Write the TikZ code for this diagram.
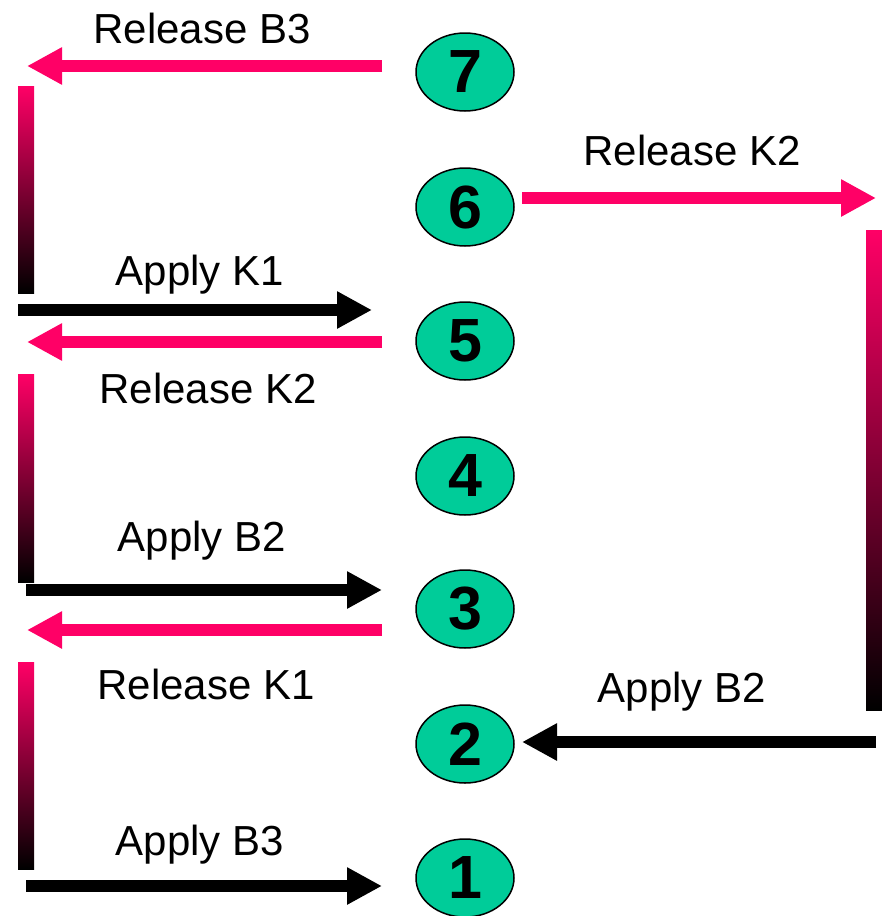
\documentclass[tikz,border=0pt]{standalone}
\usepackage{fontspec}
\setmainfont{Liberation Sans}
\usetikzlibrary{shapes.geometric,arrows.meta}
\definecolor{pinkred}{RGB}{255,0,102}
\definecolor{stepgreen}{RGB}{0,204,153}
\begin{document}
\begin{tikzpicture}[x=1pt,y=-1pt,
  stepnode/.style={ellipse,draw=black,line width=1.5pt,fill=stepgreen,minimum width=98pt,minimum height=78pt,inner sep=0pt,font=\fontsize{61}{61}\selectfont\bfseries},
  lbl/.style={font=\fontsize{42}{42}\selectfont,inner sep=0pt,anchor=center},
  redarrow/.style={draw=pinkred,line width=12pt,-{Triangle[length=35pt,width=35pt]}},
  blackarrow/.style={draw=black,line width=12pt,-{Triangle[length=35pt,width=35pt]}},
  gradbar/.style={top color=pinkred,bottom color=black,draw=none}
]
\useasboundingbox (0,0) rectangle (882,916);
% step ellipses
\node[stepnode] (n7) at (465,72) {7};
\node[stepnode] (n6) at (465,207) {6};
\node[stepnode] (n5) at (465,341) {5};
\node[stepnode] (n4) at (465,476) {4};
\node[stepnode] (n3) at (465,609) {3};
\node[stepnode] (n2) at (465,744) {2};
\node[stepnode] (n1) at (465,878) {1};
% arrow end coordinates
\coordinate (a7s) at (382,66);  \coordinate (a7e) at (27,66);
\coordinate (k1s) at (18,310);  \coordinate (k1e) at (372,310);
\coordinate (r5s) at (382,342); \coordinate (r5e) at (27,342);
\coordinate (b2s) at (26,590);  \coordinate (b2e) at (382,590);
\coordinate (r3s) at (382,630); \coordinate (r3e) at (27,630);
\coordinate (b3s) at (26,886);  \coordinate (b3e) at (382,886);
\coordinate (r6s) at (522,198); \coordinate (r6e) at (876,198);
\coordinate (a2s) at (876,742); \coordinate (a2e) at (522,742);
% gradient bars
\shade[gradbar] (18,86) rectangle (34,293);
\shade[gradbar] (18,374) rectangle (34,582);
\shade[gradbar] (18,662) rectangle (34,869);
\shade[gradbar] (866,230) rectangle (882,710);
% arrows
\draw[redarrow] (a7s) -- (a7e);
\draw[blackarrow] (k1s) -- (k1e);
\draw[redarrow] (r5s) -- (r5e);
\draw[blackarrow] (b2s) -- (b2e);
\draw[redarrow] (r3s) -- (r3e);
\draw[blackarrow] (b3s) -- (b3e);
\draw[redarrow] (r6s) -- (r6e);
\draw[blackarrow] (a2s) -- (a2e);
% labels
\node[lbl] (l1) at (202,28) {Release B3};
\node[lbl] (l2) at (692,150) {Release K2};
\node[lbl] (l3) at (200,275) {Apply K1};
\node[lbl] (l4) at (208,388) {Release K2};
\node[lbl] (l5) at (202,541) {Apply B2};
\node[lbl] (l6) at (206,684) {Release K1};
\node[lbl] (l7) at (682,692) {Apply B2};
\node[lbl] (l8) at (200,845) {Apply B3};
\end{tikzpicture}
\end{document}
